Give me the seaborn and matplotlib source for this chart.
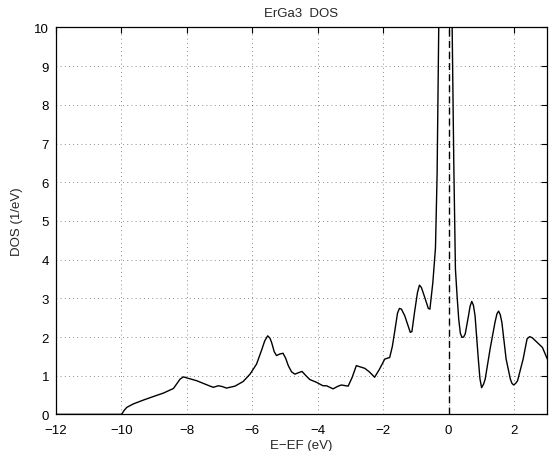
import matplotlib
matplotlib.use('Agg')
import matplotlib.pyplot as plt
import seaborn as sns
import pandas as pd

# energy relative to E_F (eV) and DOS (1/eV)
energy = [-12.0, -10.0, -9.92, -9.84, -9.64, -9.33, -9.03, -8.72, -8.41, -8.31, -8.21,
          -8.11, -7.95, -7.70, -7.29, -7.19, -7.04, -6.92, -6.79, -6.53, -6.28,
          -6.07, -5.87, -5.72, -5.62, -5.53, -5.46, -5.41, -5.33, -5.26, -5.16,
          -5.06, -4.98, -4.90, -4.80, -4.70, -4.58, -4.48, -4.36, -4.24, -4.04,
          -3.84, -3.73, -3.63, -3.53, -3.40, -3.28, -3.07, -2.95, -2.82, -2.56,
          -2.41, -2.26, -2.11, -1.95, -1.80, -1.72, -1.65, -1.56, -1.50, -1.44,
          -1.34, -1.17, -1.12, -1.04, -0.95, -0.89, -0.83, -0.73, -0.62, -0.57,
          -0.48, -0.40, -0.35, -0.30, -0.20, -0.05, 0.05, 0.11, 0.16, 0.21,
          0.26, 0.31, 0.36, 0.41, 0.46, 0.51, 0.61, 0.66, 0.71, 0.76, 0.81,
          0.91, 0.96, 1.01, 1.07, 1.12, 1.27, 1.42, 1.48, 1.53, 1.58, 1.63,
          1.76, 1.89, 1.94, 1.99, 2.05, 2.11, 2.28, 2.40, 2.48, 2.56, 2.66,
          2.87, 3.02]
dos = [0.0, 0.0, 0.10, 0.18, 0.27, 0.37, 0.46, 0.55, 0.67, 0.79, 0.91,
       0.97, 0.93, 0.87, 0.73, 0.70, 0.74, 0.72, 0.68, 0.73, 0.85,
       1.04, 1.30, 1.65, 1.90, 2.03, 1.97, 1.86, 1.62, 1.52, 1.56,
       1.58, 1.45, 1.26, 1.10, 1.04, 1.08, 1.11, 1.00, 0.90, 0.83,
       0.74, 0.74, 0.70, 0.66, 0.72, 0.76, 0.73, 0.95, 1.26, 1.19,
       1.09, 0.96, 1.17, 1.43, 1.47, 1.75, 2.12, 2.62, 2.74, 2.72,
       2.55, 2.12, 2.14, 2.64, 3.15, 3.34, 3.28, 3.03, 2.74, 2.72,
       3.41, 4.3, 6.2, 10.0, 14.0, 18.0, 14.0, 10.0, 6.5, 3.76,
       3.07, 2.47, 2.10, 1.99, 2.00, 2.08, 2.55, 2.80, 2.92, 2.82, 2.55,
       1.43, 0.92, 0.69, 0.78, 0.91, 1.69, 2.38, 2.60, 2.67, 2.58, 2.38,
       1.43, 0.91, 0.80, 0.76, 0.80, 0.87, 1.43, 1.95, 2.01, 1.98, 1.90,
       1.73, 1.43]
fermi_level = 0.0

x_ticks = [-12, -10, -8, -6, -4, -2, 0, 2]
y_ticks = list(range(0, 11))

df = pd.DataFrame({'E': energy, 'DOS': dos})

sns.set_style('white')
plt.rcParams['font.family'] = ['Liberation Sans', 'DejaVu Sans']
plt.rcParams['axes.unicode_minus'] = True

fig = plt.figure(figsize=(5.55, 4.52), dpi=100)
ax = fig.add_axes([0.101, 0.081, 0.884, 0.856])

sns.lineplot(data=df, x='E', y='DOS', sort=False, color='black', linewidth=1.0, ax=ax)
ax.axvline(fermi_level, color='black', linestyle=(0, (5, 3)), linewidth=1.0)

ax.set_xlim(-12, 3)
ax.set_ylim(0, 10)
ax.set_xticks(x_ticks)
ax.set_yticks(y_ticks)
ax.grid(True, linestyle=(0, (1, 4)), color='black', linewidth=0.6, alpha=0.6)
ax.tick_params(axis='both', direction='in', top=True, right=True, length=4, width=0.8,
               labelsize=9.5, colors='black')
ax.tick_params(axis='x', pad=7)
ax.tick_params(axis='y', pad=5)
for side in ax.spines.values():
    side.set_color('black')
    side.set_linewidth(0.9)

ax.set_title('ErGa3  DOS', fontsize=9.5, pad=8)
ax.set_xlabel('E\u2212EF (eV)', fontsize=9.5, labelpad=2)
ax.set_ylabel('DOS (1/eV)', fontsize=9.5, labelpad=8)

fig.savefig('out.png', dpi=100)
